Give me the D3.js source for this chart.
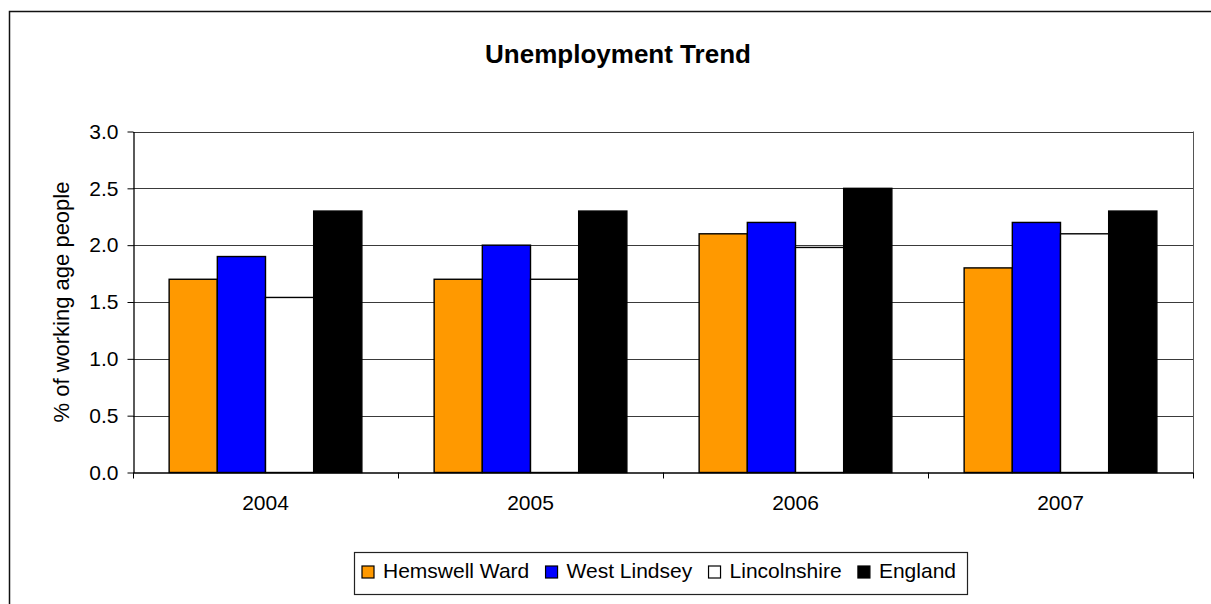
<!DOCTYPE html>
<html>
<head>
<meta charset="utf-8">
<script src="https://cdn.jsdelivr.net/npm/d3@7"></script>
<style>
  html, body { margin: 0; padding: 0; background: #fff; }
  svg { display: block; font-family: "Liberation Sans", Arial, sans-serif; }
</style>
</head>
<body>
<svg id="chart" width="1211" height="604"></svg>
<script>
// Unemployment rate (% of working age people) by year and area
const years = ["2004", "2005", "2006", "2007"];
const seriesNames = ["Hemswell Ward", "West Lindsey", "Lincolnshire", "England"];
const hemswellWard = [1.7, 1.7, 2.1, 1.8];
const westLindsey = [1.9, 2.0, 2.2, 2.2];
const lincolnshire = [1.54, 1.7, 1.98, 2.1];
const england = [2.3, 2.3, 2.5, 2.3];
const yTicks = [0, 0.5, 1.0, 1.5, 2.0, 2.5, 3.0];
const seriesColors = ["#FF9900", "#0000FF", "#FFFFFF", "#000000"];

const seriesValues = [hemswellWard, westLindsey, lincolnshire, england];
const rows = years.map((yr, i) => ({
  year: yr,
  values: seriesNames.map((name, s) => ({ name, value: seriesValues[s][i], color: seriesColors[s] }))
}));

const svg = d3.select("#chart");
const plot = { left: 133, right: 1193, top: 131.5, bottom: 472.5 };

// Outer chart frame (runs past the visible window on the right and bottom)
svg.append("rect")
  .attr("x", 9.5).attr("y", 11.5)
  .attr("width", 1260).attr("height", 640)
  .attr("fill", "#fff").attr("stroke", "#111").attr("stroke-width", 1.5);

// Title
svg.append("text")
  .attr("x", 618).attr("y", 63)
  .attr("text-anchor", "middle")
  .attr("font-size", 26).attr("font-weight", "bold")
  .text("Unemployment Trend");

const x0 = d3.scaleBand().domain(years).range([plot.left, plot.right]).padding(0);
const x1 = d3.scaleBand().domain(seriesNames).range([0, x0.bandwidth()])
  .paddingInner(0).paddingOuter(0.75);
const y = d3.scaleLinear().domain([0, 3]).range([plot.bottom, plot.top]);

// Gridlines
svg.append("g")
  .selectAll("line")
  .data(yTicks.filter(v => v > 0))
  .join("line")
  .attr("x1", plot.left).attr("x2", plot.right)
  .attr("y1", d => Math.round(y(d)) + 0.5).attr("y2", d => Math.round(y(d)) + 0.5)
  .attr("stroke", "#3a3a3a").attr("stroke-width", 1);

// Right edge of plot area
svg.append("line")
  .attr("x1", plot.right + 0.5).attr("x2", plot.right + 0.5)
  .attr("y1", plot.top).attr("y2", plot.bottom)
  .attr("stroke", "#555").attr("stroke-width", 1);

// Bars
const groups = svg.append("g")
  .selectAll("g")
  .data(rows)
  .join("g")
  .attr("transform", d => `translate(${x0(d.year)},0)`);

groups.selectAll("rect")
  .data(d => d.values)
  .join("rect")
  .attr("x", d => x1(d.name))
  .attr("width", x1.bandwidth())
  .attr("y", d => y(d.value))
  .attr("height", d => y(0) - y(d.value))
  .attr("fill", d => d.color)
  .attr("stroke", "#000").attr("stroke-width", 1.4);

// Y axis
const yAxis = svg.append("g")
  .attr("transform", `translate(${plot.left + 0.5},0)`)
  .call(d3.axisLeft(y).tickValues(yTicks).tickFormat(d3.format(".1f"))
    .tickSize(6).tickPadding(9).tickSizeOuter(0));
yAxis.select(".domain").attr("stroke", "#000").attr("stroke-width", 1.3);
yAxis.selectAll(".tick line").attr("stroke", "#000");
yAxis.selectAll("text").attr("font-size", 21).attr("fill", "#000")
  .attr("font-family", "\"Liberation Sans\", Arial, sans-serif");

// X axis: labels centred on categories, tick marks on category boundaries
const xAxis = svg.append("g")
  .attr("transform", `translate(0,${plot.bottom})`)
  .call(d3.axisBottom(x0).tickSize(0).tickPadding(23));
xAxis.select(".domain").attr("stroke", "#000").attr("stroke-width", 1.5);
xAxis.selectAll("text").attr("font-size", 21).attr("fill", "#000")
  .attr("font-family", "\"Liberation Sans\", Arial, sans-serif");

const boundaries = years.map(yr => x0(yr)).concat([x0(years[years.length - 1]) + x0.bandwidth()]);
svg.append("g")
  .selectAll("line")
  .data(boundaries)
  .join("line")
  .attr("x1", d => Math.round(d) + 0.5).attr("x2", d => Math.round(d) + 0.5)
  .attr("y1", plot.bottom).attr("y2", plot.bottom + 6)
  .attr("stroke", "#000");

// Y axis title
svg.append("text")
  .attr("transform", `translate(69,${(plot.top + plot.bottom) / 2}) rotate(-90)`)
  .attr("text-anchor", "middle")
  .attr("font-size", 22)
  .text("% of working age people");

// Legend
const legend = { x: 354, y: 552, w: 613, h: 42, first: 362, last: 956 };
svg.append("rect")
  .attr("x", legend.x + 0.5).attr("y", legend.y + 0.5)
  .attr("width", legend.w).attr("height", legend.h)
  .attr("fill", "#fff").attr("stroke", "#222").attr("stroke-width", 1.2);

const items = svg.append("g").selectAll("g")
  .data(seriesNames.map((name, i) => ({ name, color: seriesColors[i] })))
  .join("g");
items.append("rect")
  .attr("width", 12).attr("height", 12)
  .attr("y", 566)
  .attr("fill", d => d.color)
  .attr("stroke", "#000").attr("stroke-width", 1.2);
const labels = items.append("text")
  .attr("y", 578)
  .attr("font-size", 21)
  .text(d => d.name);

const swatchGap = 9;
const widths = labels.nodes().map(n => n.getComputedTextLength());
const used = widths.reduce((a, w) => a + 12 + swatchGap + w, 0);
const between = (legend.last - legend.first - used) / (widths.length - 1);
let cursor = legend.first;
items.each(function(d, i) {
  d3.select(this).select("rect").attr("x", cursor);
  d3.select(this).select("text").attr("x", cursor + 12 + swatchGap);
  cursor += 12 + swatchGap + widths[i] + between;
});
</script>
</body>
</html>
